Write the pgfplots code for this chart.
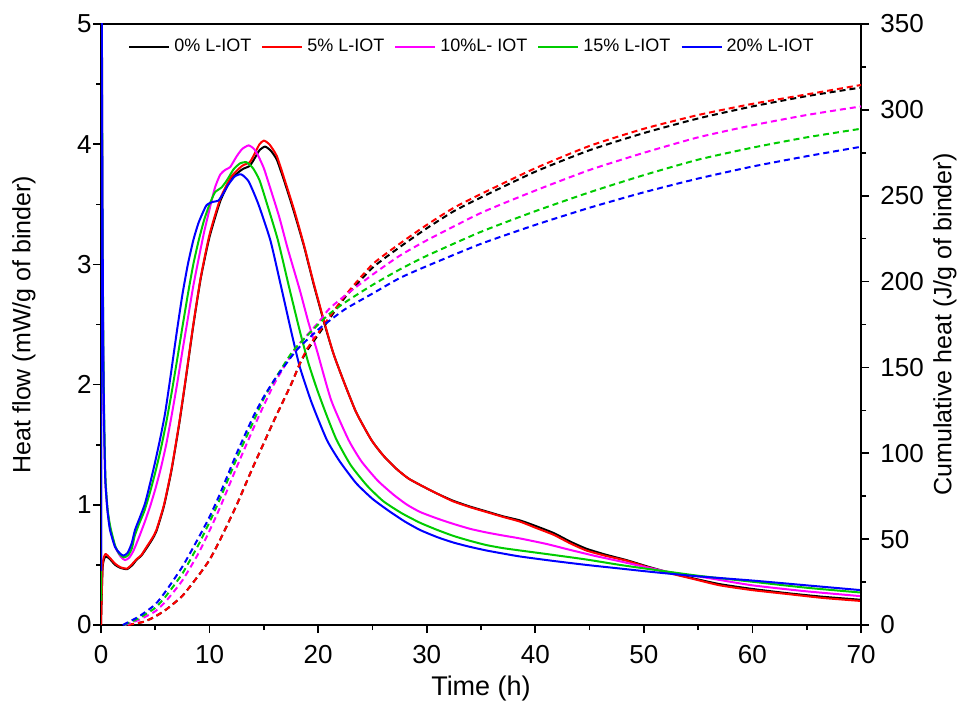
\documentclass[border=0pt]{standalone}
\usepackage{fontspec}
\setmainfont{Liberation Sans}
\usepackage{pgfplots}
\pgfplotsset{compat=1.18}
\definecolor{cgreen}{HTML}{00CC00}
\definecolor{cmag}{HTML}{FF00FF}

\pgfplotsset{
  common/.style={
    scale only axis, width=380pt, height=300.5pt,
    xmin=0, xmax=70,
    tick align=outside,
    major tick length=4pt, minor tick length=2.5pt,
    axis line style={line width=0.8pt},
    tick style={line width=0.8pt, black},
    ticklabel style={font=\fontsize{13}{15}\selectfont},
    /pgf/number format/assume math mode=true,
    every axis plot/.append style={line width=1pt, line join=round, mark=none, smooth, tension=0.35},
  },
}

\begin{document}
\begin{tikzpicture}
\begin{axis}[
  common,
  ymin=0, ymax=5,
  xtick={0,10,...,70}, minor x tick num=1,
  ytick={0,1,...,5}, minor y tick num=1,
  xtick pos=bottom, ytick pos=left,
  xticklabel style={inner sep=0pt, yshift=-6pt},
  yticklabel style={inner sep=0pt, xshift=-0.5pt},
  xlabel={Time (h)},
  ylabel={Heat flow (mW/g of binder)},
  every axis x label/.style={at={([yshift=-31.5pt]axis description cs:0.5,0)}, anchor=center,
    font=\fontsize{13.5}{16}\selectfont},
  every axis y label/.style={at={([xshift=-38.5pt]axis description cs:0,0.5)}, rotate=90, anchor=center,
    font=\fontsize{12.5}{15}\selectfont},
  legend columns=5,
  legend style={at={([xshift=13.5pt,yshift=-11.5pt]axis description cs:0,1)}, anchor=west, draw=none, fill=none,
    inner sep=0pt, font=\fontsize{9}{11}\selectfont,
    /tikz/every even column/.append style={column sep=3pt}},
  legend image code/.code={\draw[#1] (0pt,0pt) -- (20pt,0pt);},
]
% 0% L-IOT
\addplot[black] coordinates {
(0,0) (0.15,0.48) (0.4,0.57) (0.8,0.55) (1.3,0.5) (1.8,0.475) (2.4,0.465) (2.9,0.5) (3.3,0.545) (3.7,0.575)
(4.2,0.64) (4.7,0.71) (5.1,0.78) (5.8,0.99) (6.5,1.29) (7.2,1.67) (7.8,2.04) (8.5,2.49) (9.2,2.89) (10,3.23)
(11,3.53) (12,3.71) (13,3.79) (13.7,3.82) (14.2,3.89) (14.6,3.95) (15.1,3.98) (15.6,3.95) (16.2,3.87) (17,3.66)
(17.8,3.43) (18.7,3.15) (19.6,2.83) (20.6,2.5) (21.4,2.26) (22.3,2.04) (23.5,1.77) (24.9,1.54) (26,1.41) (27.2,1.3)
(28.3,1.22) (29.4,1.165) (30.8,1.1) (32.4,1.035) (34,0.985) (35.5,0.945) (37,0.905) (38.6,0.87) (40,0.825) (41.7,0.765)
(43.2,0.695) (44.7,0.635) (46.5,0.585) (48.4,0.54) (50.4,0.485) (52.4,0.435) (54.7,0.385) (57,0.34) (60,0.3)
(63.2,0.265) (66.5,0.235) (70,0.21)
};
\addlegendentry{0\% L-IOT}
% 5% L-IOT
\addplot[red] coordinates {
(0,0) (0.15,0.5) (0.4,0.59) (0.8,0.56) (1.3,0.51) (1.8,0.48) (2.4,0.47) (2.9,0.51) (3.3,0.55) (3.7,0.58)
(4.2,0.65) (4.7,0.72) (5.1,0.79) (5.8,1.0) (6.5,1.3) (7.2,1.68) (7.8,2.05) (8.5,2.5) (9.2,2.9) (10,3.25)
(11,3.55) (12,3.73) (13,3.82) (13.7,3.85) (14.2,3.93) (14.6,4.0) (15,4.03) (15.5,4.0) (16.2,3.9) (17,3.68)
(17.8,3.45) (18.7,3.16) (19.6,2.84) (20.6,2.51) (21.4,2.26) (22.3,2.04) (23.5,1.77) (24.9,1.54) (26,1.41) (27.2,1.3)
(28.3,1.22) (29.4,1.165) (30.8,1.1) (32.4,1.03) (34,0.98) (35.5,0.94) (37,0.9) (38.6,0.86) (40,0.81) (41.7,0.75)
(43.2,0.68) (44.7,0.62) (46.5,0.575) (48.4,0.535) (50.4,0.48) (52.4,0.43) (54.7,0.38) (57,0.33) (60,0.29)
(63.2,0.258) (66.5,0.225) (70,0.2)
};
\addlegendentry{5\% L-IOT}
% 10% L-IOT
\addplot[cmag] coordinates {
(0,0.3) (0.03,6) (0.1,4.5) (0.15,3) (0.25,1.8) (0.4,1.2) (0.6,0.95) (0.85,0.8) (1.3,0.65) (1.8,0.57)
(2.2,0.54) (2.6,0.56) (3.0,0.62) (3.5,0.73) (4,0.85) (4.5,0.98) (5,1.13) (5.5,1.3) (6,1.5) (6.5,1.74)
(7,2.0) (7.5,2.28) (8,2.55) (8.5,2.82) (9,3.05) (9.5,3.27) (10,3.46) (10.5,3.64) (11,3.75) (11.5,3.79) (11.9,3.81)
(12.5,3.9) (13,3.96) (13.6,3.99) (14.1,3.96) (14.5,3.9) (15,3.8) (15.5,3.66) (16.4,3.4) (17.2,3.13) (18.3,2.79)
(19.1,2.52) (19.9,2.28) (21.2,1.87) (22.8,1.54) (24,1.36) (25.5,1.2) (27,1.08) (28.2,1.0) (29.4,0.94) (31,0.885)
(32.5,0.84) (34,0.8) (35.5,0.77) (37,0.745) (38.6,0.72) (41,0.675) (43.2,0.625) (45.5,0.575) (47.8,0.53) (50,0.485)
(52.4,0.44) (56,0.39) (60,0.33) (65,0.28) (70,0.24)
};
\addlegendentry{10\%L- IOT}
% 15% L-IOT
\addplot[cgreen] coordinates {
(0,0.2) (0.03,6) (0.1,4.5) (0.15,3.2) (0.25,2) (0.4,1.25) (0.6,0.97) (0.85,0.82) (1.3,0.66) (1.7,0.59)
(2.1,0.563) (2.5,0.58) (2.85,0.64) (3.1,0.74) (3.5,0.84) (4,0.95) (4.5,1.1) (5,1.27) (5.5,1.46) (6,1.68)
(6.5,1.93) (7,2.2) (7.5,2.48) (8,2.75) (8.5,3.0) (9,3.2) (9.5,3.37) (10,3.5) (10.5,3.6) (11.1,3.64)
(11.6,3.7) (12.2,3.79) (12.8,3.84) (13.4,3.85) (14,3.8) (14.6,3.7) (15.3,3.5) (16.3,3.2) (17.3,2.82) (18.3,2.45)
(19.1,2.18) (19.9,1.96) (20.8,1.74) (21.7,1.54) (23,1.33) (24.5,1.16) (26,1.03) (27.7,0.93) (29.4,0.85) (31,0.79)
(32.5,0.74) (34,0.7) (35.5,0.665) (37,0.64) (38.6,0.62) (41.5,0.585) (44.7,0.545) (47.8,0.5) (50.9,0.46) (55,0.41)
(60,0.36) (65,0.31) (70,0.27)
};
\addlegendentry{15\% L-IOT}
% 20% L-IOT
\addplot[blue] coordinates {
(0,0.45) (0.03,6) (0.1,4.2) (0.2,2.4) (0.3,1.6) (0.4,1.2) (0.6,0.95) (0.83,0.79) (1.29,0.65) (1.7,0.6)
(2.06,0.577) (2.45,0.6) (2.83,0.68) (3.13,0.79) (3.6,0.9) (4.05,1.01) (4.5,1.17) (4.97,1.35) (5.45,1.55) (5.9,1.76)
(6.36,2.04) (7,2.45) (7.5,2.75) (8,3.0) (8.5,3.2) (9,3.35) (9.7,3.49) (10.3,3.52) (10.8,3.53) (11.2,3.58)
(11.7,3.66) (12.3,3.73) (12.9,3.75) (13.6,3.69) (14.5,3.5) (15.6,3.2) (16.5,2.85) (17.5,2.45) (18.3,2.15) (19.4,1.85)
(20.8,1.54) (22,1.36) (23.5,1.18) (25,1.05) (26.5,0.95) (28,0.86) (29.4,0.79) (31,0.73) (32.5,0.685) (34,0.65)
(35.5,0.62) (37,0.595) (38.6,0.57) (41.5,0.535) (44.7,0.5) (47.8,0.47) (50.9,0.44) (55,0.405) (60,0.37) (65,0.33)
(70,0.29)
};
\addlegendentry{20\% L-IOT}
\end{axis}

\begin{axis}[
  common,
  name=ax,
  ymin=0, ymax=350,
  axis x line=none,
  axis y line*=right,
  ytick={0,50,...,350}, minor y tick num=1,
  yticklabel style={inner sep=0pt, xshift=5.5pt},
  ylabel={Cumulative heat (J/g of binder)},
  every axis y label/.style={at={([xshift=42pt]axis description cs:1,0.5)}, rotate=90, anchor=center,
    font=\fontsize{12.5}{15}\selectfont},
  every axis plot/.append style={dash pattern=on 3pt off 2pt},
]
\addplot[black] coordinates {
(2.5,0) (4,2) (5,5) (6,9) (7.5,17) (9,29) (10,38) (11,50) (12.5,70) (14,92) (15,106) (16,120) (17.5,140)
(18.3,152) (19,160) (20,169) (21,178) (22.5,191) (25,208) (27.5,220) (30,231) (32.5,241) (35,249) (40,264)
(45,276.5) (50,286.5) (55,295) (60,302) (65,308) (70,313)
};
\addplot[red] coordinates {
(2.5,0) (4,2) (5,5) (6,9) (7.5,17) (9,29) (10,38) (11,50) (12.5,70) (14,92) (15,106) (16,120) (17.5,140)
(18.3,152) (19,161) (20,170) (21,179) (22.5,192) (25,210) (27.5,222) (30,233) (32.5,243) (35,251) (40,266)
(45,279) (50,289) (55,297) (60,303.5) (65,309) (70,314.5)
};
\addplot[cmag] coordinates {
(2.2,0) (3.5,3) (5,8) (6,14) (7.5,26) (9,42) (10,55) (11,69) (12.5,92) (14,114) (15,128) (16,141) (17.5,157)
(18.3,164) (20,176) (21,184) (22.5,192) (25,204) (27.5,215) (30,224) (35,240) (40,253) (45,265) (50,275)
(55,284) (60,291) (65,297) (70,302)
};
\addplot[cgreen] coordinates {
(2.1,0) (3.5,4) (5,10) (6,17) (7.5,30) (9,47) (10,60) (11,74) (12.5,97) (14,118) (15,132) (16,143) (17.5,158)
(18.3,164) (20,175) (21,181) (22.5,188) (25,198) (27.5,207) (30,215) (35,229) (40,241) (45,252) (50,262)
(55,271) (60,278) (65,284) (70,289)
};
\addplot[blue] coordinates {
(2.0,0) (3.5,5) (5,12) (6,20) (7.5,34) (9,51) (10,63) (11,77) (12.5,100) (14,121) (15,133) (16,143) (17.5,156)
(18.3,162) (20,172) (21,177) (22.5,184) (25,193) (27.5,202) (30,209) (35,222) (40,233) (45,243) (50,252)
(55,260) (60,267) (65,273) (70,278.5)
};
\end{axis}
\pgfresetboundingbox
\useasboundingbox ([shift={(-50.5pt,-44pt)}]ax.south west) rectangle ([shift={(51.5pt,12pt)}]ax.north east);
\end{tikzpicture}
\end{document}
